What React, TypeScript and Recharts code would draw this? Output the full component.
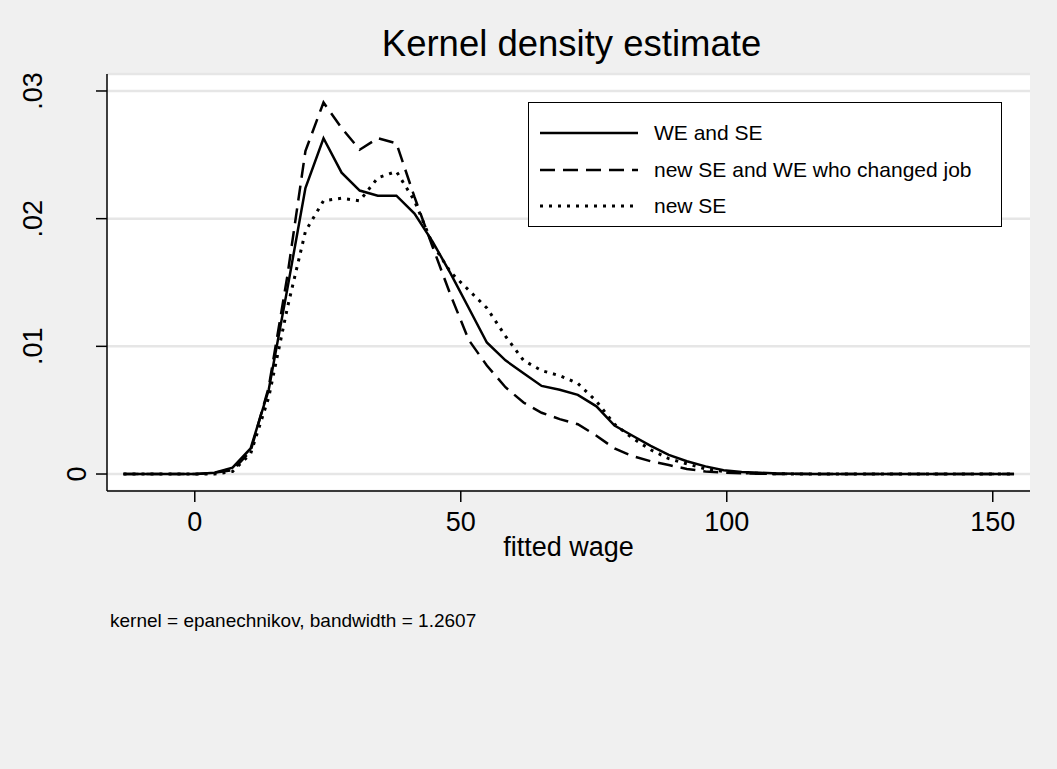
import { LineChart, Line, XAxis, YAxis, CartesianGrid } from "recharts";

// evaluation grid of the kernel density (50 points)
const wageGrid = [
  -13.4, -10.0, -6.6, -3.2, 0.3, 3.7, 7.1, 10.5, 13.9, 17.4, 20.8, 24.2, 27.6, 31.0, 34.4, 37.9, 41.3,
  44.7, 48.1, 51.5, 54.9, 58.4, 61.8, 65.2, 68.6, 72.0, 75.5, 78.9, 82.3, 85.7, 89.1, 92.5, 96.0, 99.4,
  102.8, 106.2, 109.6, 113.1, 116.5, 119.9, 123.3, 126.7, 130.1, 133.6, 137.0, 140.4, 143.8, 147.2,
  150.6, 154.0,
];

const weAndSe = [
  0, 0, 0, 0, 0, 0.0001, 0.0005, 0.002, 0.0066, 0.0145, 0.0224, 0.0263, 0.0236, 0.0222, 0.0218, 0.0218,
  0.0204, 0.0182, 0.0157, 0.013, 0.0103, 0.0089, 0.0079, 0.0069, 0.0066, 0.0062, 0.0053, 0.0038, 0.003,
  0.0022, 0.0015, 0.001, 0.0006, 0.0003, 0.00015, 0.0001, 0.00005, 0.00003, 0.00001, 0, 0, 0, 0, 0, 0,
  0, 0, 0, 0, 0,
];

const newSeChangedJob = [
  0, 0, 0, 0, 0, 0.0001, 0.0003, 0.0018, 0.0068, 0.0155, 0.0253, 0.0291, 0.0271, 0.0254, 0.0263, 0.0259,
  0.0217, 0.0178, 0.014, 0.0105, 0.0085, 0.0068, 0.0056, 0.0048, 0.0043, 0.0039, 0.003, 0.002, 0.0014,
  0.001, 0.0007, 0.0004, 0.0002, 0.0001, 0.00005, 0.00002, 0, 0, 0, 0, 0, 0, 0, 0, 0, 0, 0, 0, 0, 0,
];

const newSe = [
  0, 0, 0, 0, 0, 0, 0.0002, 0.0016, 0.006, 0.013, 0.019, 0.0214, 0.0216, 0.0214, 0.0232, 0.0237, 0.0214,
  0.018, 0.0158, 0.0144, 0.013, 0.0108, 0.0089, 0.0081, 0.0077, 0.0071, 0.0057, 0.0039, 0.0028, 0.0019,
  0.0012, 0.0008, 0.0004, 0.0002, 0.0001, 0.00005, 0.00002, 0, 0, 0, 0, 0, 0, 0, 0, 0, 0, 0, 0, 0,
];

const xTicks = [0, 50, 100, 150];
const yTicks = [0, 0.01, 0.02, 0.03];

const series = [
  { key: "a", name: "WE and SE", dash: undefined as string | undefined, width: 2.5 },
  { key: "b", name: "new SE and WE who changed job", dash: "15 8", width: 2.5 },
  { key: "c", name: "new SE", dash: "3 6", width: 3 },
];

const data = wageGrid.map((x, i) => ({
  x,
  a: weAndSe[i],
  b: newSeChangedJob[i],
  c: newSe[i],
}));

const FONT = "Arial, 'Liberation Sans', Helvetica, sans-serif";

const fmtY = (v: number) => (v === 0 ? "0" : v.toFixed(2).replace(/^0/, ""));

function YTick(props: any) {
  const { x, y, payload } = props;
  const label = fmtY(payload.value);
  // Stata pushes the longer rotated labels further out
  const bx = x - 8 - (label.length - 1) * 22;
  return (
    <text
      x={bx}
      y={y}
      transform={`rotate(-90, ${bx}, ${y})`}
      textAnchor="middle"
      fontSize={27}
      fontFamily={FONT}
      fill="#000"
    >
      {label}
    </text>
  );
}

export default function App() {
  return (
    <div
      style={{
        position: "absolute",
        top: 0,
        left: 0,
        width: 1057,
        height: 769,
        background: "#f0f0f0",
        fontFamily: FONT,
      }}
    >
      <div
        style={{
          position: "absolute",
          top: 21,
          left: 110,
          width: 923,
          textAlign: "center",
          fontSize: 36.5,
          lineHeight: "46px",
          color: "#000",
        }}
      >
        Kernel density estimate
      </div>
      <LineChart
        width={1057}
        height={769}
        data={data}
        margin={{ top: 74, right: 27, bottom: 218, left: 0 }}
      >
        <CartesianGrid
          vertical={false}
          fill="#ffffff"
          stroke="#e6e6e6"
          strokeWidth={2.5}
        />
        <XAxis
          dataKey="x"
          type="number"
          domain={[-16.5, 157]}
          allowDataOverflow
          ticks={xTicks}
          height={60}
          tickSize={11}
          tickMargin={10}
          axisLine={{ stroke: "#000", strokeWidth: 1.5 }}
          tickLine={{ stroke: "#000", strokeWidth: 1.5 }}
          tick={{ fontSize: 27, fill: "#000", fontFamily: FONT }}
        />
        <YAxis
          type="number"
          domain={[-0.00133, 0.03133]}
          allowDataOverflow
          ticks={yTicks}
          width={107}
          tickSize={11}
          tickMargin={2}
          axisLine={{ stroke: "#000", strokeWidth: 1.5 }}
          tickLine={{ stroke: "#000", strokeWidth: 1.5 }}
          tick={<YTick />}
        />
        {series.map((s) => (
          <Line
            key={s.key}
            type="linear"
            dataKey={s.key}
            name={s.name}
            stroke="#000"
            strokeWidth={s.width}
            strokeDasharray={s.dash}
            dot={false}
            activeDot={false}
            isAnimationActive={false}
          />
        ))}
      </LineChart>
      <div
        style={{
          position: "absolute",
          top: 102,
          left: 528,
          width: 472,
          height: 123,
          background: "#fff",
          border: "1px solid #000",
          boxSizing: "content-box",
        }}
      >
        {series.map((s, i) => (
          <div
            key={s.key}
            style={{
              position: "absolute",
              top: 12 + i * 36.5,
              left: 0,
              height: 36,
              display: "flex",
              alignItems: "center",
            }}
          >
            <svg width={110} height={36} style={{ marginLeft: 11 }}>
              <line
                x1={0}
                x2={98}
                y1={18}
                y2={18}
                stroke="#000"
                strokeWidth={s.width}
                strokeDasharray={s.dash}
              />
            </svg>
            <span style={{ fontSize: 21, marginLeft: 4, color: "#000" }}>{s.name}</span>
          </div>
        ))}
      </div>
      <div
        style={{
          position: "absolute",
          top: 530,
          left: 107,
          width: 923,
          textAlign: "center",
          fontSize: 27,
          lineHeight: "34px",
          color: "#000",
        }}
      >
        fitted wage
      </div>
      <div
        style={{
          position: "absolute",
          top: 609,
          left: 110,
          fontSize: 19,
          lineHeight: "24px",
          color: "#000",
        }}
      >
        kernel = epanechnikov, bandwidth = 1.2607
      </div>
    </div>
  );
}
